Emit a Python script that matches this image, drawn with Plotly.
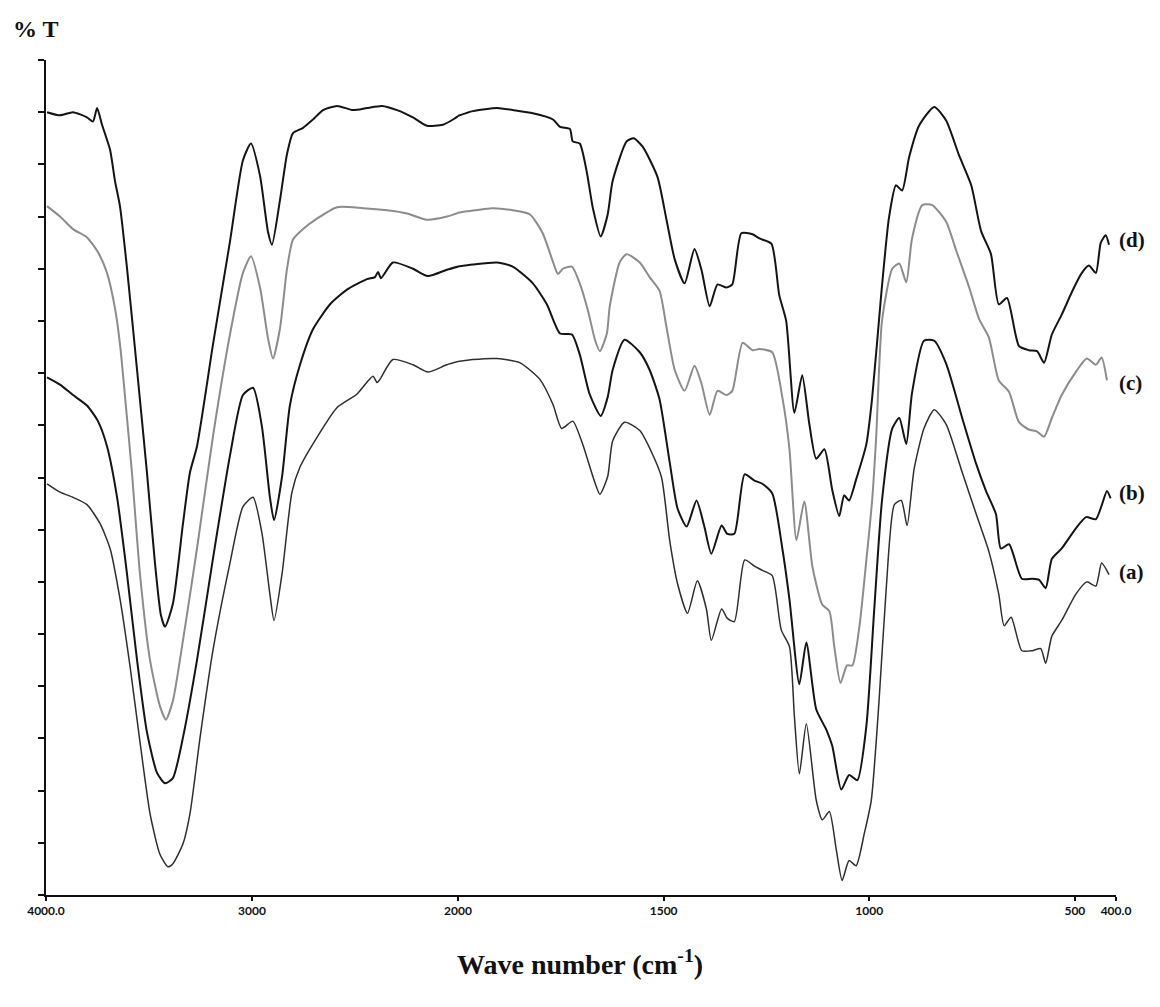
import plotly.graph_objects as go

# ---------------- data (wavenumber in cm-1, transmittance in arbitrary %T units) ----------------
wn_d = [3995, 3932, 3869, 3801, 3772, 3752, 3728, 3689, 3665, 3641, 3607, 3558, 3510, 3471, 3442, 3422,
        3384, 3335, 3301, 3267, 3189, 3107, 3044, 3005, 2961, 2922, 2903, 2864, 2830, 2801, 2752, 2704,
        2655, 2587, 2510, 2442, 2369, 2296, 2219, 2151, 2073, 2024, 1964, 1905, 1867, 1818, 1769, 1752,
        1728, 1721, 1704, 1687, 1672, 1653, 1636, 1624, 1590, 1573, 1551, 1515, 1493, 1473, 1449, 1425,
        1408, 1388, 1369, 1347, 1333, 1311, 1284, 1267, 1238, 1219, 1202, 1182, 1163, 1146, 1129, 1109,
        1090, 1073, 1061, 1049, 1032, 1007, 993, 971, 952, 935, 920, 903, 879, 842, 813, 782, 752, 728,
        704, 685, 665, 636, 612, 592, 575, 556, 532, 507, 483, 466, 449, 437, 425, 417]
t_d = [75.0, 74.7, 75.0, 74.5, 74.1, 75.4, 73.8, 71.4, 68.4, 66.0, 60.1, 50.3, 40.5, 31.8, 26.8, 25.7,
       27.9, 35.6, 40.5, 43.0, 52.8, 62.6, 70.4, 72.0, 68.9, 63.5, 62.3, 66.6, 71.0, 73.0, 73.5, 74.3,
       75.2, 75.6, 75.2, 75.4, 75.6, 75.2, 74.5, 73.7, 73.8, 74.3, 75.1, 75.4, 75.2, 74.9, 74.3, 73.6,
       73.4, 72.2, 72.0, 69.3, 65.8, 63.1, 65.2, 68.4, 72.2, 72.5, 71.7, 68.8, 64.7, 60.9, 58.6, 61.9,
       59.9, 56.4, 58.5, 58.2, 58.5, 63.4, 63.3, 62.9, 62.4, 57.5, 55.0, 46.2, 49.8, 45.2, 41.8, 42.7,
       38.8, 36.3, 38.3, 37.8, 39.8, 43.2, 47.6, 57.5, 64.9, 68.0, 67.5, 70.7, 73.7, 75.5, 74.2, 70.9,
       68.0, 63.6, 61.4, 56.6, 57.2, 52.6, 52.2, 52.1, 51.0, 53.7, 55.6, 57.8, 59.6, 60.3, 59.6, 62.5,
       63.2, 62.3]

wn_c = [3995, 3932, 3869, 3801, 3748, 3704, 3665, 3641, 3617, 3583, 3544, 3495, 3447, 3418, 3384, 3335,
        3267, 3189, 3107, 3044, 3005, 2961, 2922, 2898, 2864, 2830, 2801, 2752, 2685, 2587, 2461, 2345,
        2248, 2151, 2054, 1978, 1915, 1867, 1825, 1794, 1772, 1757, 1745, 1723, 1704, 1684, 1667, 1655,
        1638, 1631, 1607, 1590, 1558, 1534, 1510, 1493, 1473, 1449, 1425, 1408, 1388, 1369, 1347, 1333,
        1308, 1284, 1267, 1236, 1211, 1194, 1177, 1158, 1138, 1114, 1097, 1085, 1070, 1054, 1041, 1024,
        1007, 993, 983, 969, 944, 927, 910, 896, 871, 847, 813, 789, 757, 733, 709, 685, 660, 636, 612,
        592, 575, 556, 532, 498, 471, 449, 435, 422]
t_c = [66.0, 65.0, 63.8, 63.0, 61.6, 59.6, 56.2, 52.8, 47.9, 40.5, 30.8, 22.5, 18.1, 16.8, 18.6, 24.4,
       33.2, 44.0, 53.7, 59.6, 61.2, 58.2, 53.3, 51.4, 54.3, 60.0, 62.8, 63.8, 64.8, 65.9, 65.8, 65.6,
       65.3, 64.7, 65.0, 65.5, 65.8, 65.6, 65.2, 63.4, 61.0, 59.5, 60.0, 60.2, 58.6, 56.0, 53.2, 52.1,
       53.8, 56.4, 60.6, 61.4, 60.6, 59.2, 57.9, 54.4, 50.3, 48.3, 50.7, 49.0, 46.0, 48.3, 47.9, 48.3,
       52.9, 52.2, 52.3, 52.0, 47.6, 42.7, 34.0, 37.7, 31.4, 27.8, 27.2, 23.8, 20.3, 22.0, 22.0, 25.7,
       32.1, 37.8, 44.0, 55.0, 60.0, 60.5, 58.7, 62.9, 66.1, 66.1, 64.5, 61.8, 58.2, 55.2, 53.4, 49.3,
       48.2, 45.3, 44.6, 44.4, 43.9, 45.7, 47.9, 50.1, 51.4, 50.8, 51.5, 49.3]

wn_b = [3995, 3932, 3869, 3801, 3748, 3704, 3655, 3607, 3558, 3510, 3461, 3422, 3384, 3335, 3267, 3189,
        3107, 3044, 2995, 2952, 2913, 2893, 2854, 2816, 2767, 2704, 2621, 2539, 2442, 2403, 2388, 2374,
        2316, 2219, 2146, 2054, 1964, 1905, 1867, 1818, 1784, 1752, 1723, 1704, 1680, 1653, 1636, 1624,
        1595, 1558, 1534, 1510, 1485, 1466, 1444, 1420, 1401, 1384, 1359, 1345, 1328, 1303, 1279, 1260,
        1236, 1211, 1194, 1170, 1153, 1129, 1104, 1090, 1068, 1049, 1029, 1007, 988, 969, 944, 927, 910,
        896, 867, 842, 813, 774, 740, 716, 692, 680, 660, 629, 604, 587, 571, 556, 532, 498, 473, 449,
        435, 422, 413]
t_b = [49.6, 48.9, 47.9, 46.9, 45.4, 43.0, 38.1, 30.8, 22.5, 15.6, 11.7, 10.7, 11.2, 15.1, 22.5, 32.3,
       42.1, 47.9, 48.6, 44.9, 38.1, 35.9, 40.1, 46.9, 50.8, 54.2, 56.6, 58.0, 59.0, 59.2, 59.7, 59.1,
       60.6, 60.0, 59.3, 59.9, 60.4, 60.6, 60.2, 58.6, 56.6, 53.8, 53.7, 51.8, 48.0, 45.9, 47.7, 50.3,
       53.2, 52.0, 50.3, 47.5, 41.4, 37.0, 35.3, 37.8, 35.3, 32.7, 35.4, 34.6, 34.6, 40.3, 39.7, 39.4,
       38.5, 33.1, 28.3, 20.2, 24.2, 17.8, 15.8, 14.3, 10.1, 11.5, 11.0, 16.2, 27.3, 37.8, 44.7, 45.7,
       43.2, 48.1, 53.1, 53.1, 50.9, 45.7, 41.3, 38.7, 36.5, 33.2, 33.6, 30.3, 30.3, 30.2, 29.4, 32.2,
       33.2, 35.1, 36.2, 36.0, 37.3, 38.7, 38.0]

wn_a = [3995, 3932, 3869, 3801, 3738, 3689, 3641, 3592, 3544, 3495, 3447, 3408, 3384, 3335, 3301, 3252,
        3189, 3107, 3044, 2995, 2952, 2913, 2893, 2854, 2806, 2767, 2670, 2587, 2490, 2413, 2393, 2379,
        2316, 2219, 2146, 2054, 1964, 1905, 1850, 1801, 1769, 1748, 1721, 1697, 1672, 1655, 1636, 1624,
        1595, 1558, 1529, 1505, 1485, 1466, 1442, 1418, 1396, 1384, 1359, 1345, 1328, 1303, 1279, 1260,
        1236, 1214, 1194, 1182, 1170, 1153, 1129, 1114, 1097, 1080, 1066, 1049, 1032, 1012, 995, 976, 959,
        939, 922, 908, 891, 867, 842, 813, 774, 740, 709, 685, 672, 655, 629, 604, 583, 571, 556, 532, 498,
        471, 449, 435, 417]
t_a = [39.4, 38.6, 38.1, 37.4, 35.6, 33.2, 28.4, 21.9, 14.7, 7.8, 3.9, 2.7, 3.0, 4.9, 7.8, 15.1,
       23.5, 31.8, 37.2, 38.1, 34.7, 28.8, 26.3, 30.8, 38.6, 41.0, 44.3, 46.7, 48.0, 49.7, 49.1, 49.4,
       51.3, 50.8, 50.1, 50.8, 51.3, 51.4, 51.0, 49.4, 47.0, 44.7, 45.4, 43.2, 40.1, 38.4, 40.1, 43.5,
       45.3, 44.5, 42.4, 40.0, 33.9, 29.8, 27.0, 30.1, 27.4, 24.4, 27.4, 26.5, 26.2, 32.1, 31.5, 31.1,
       30.6, 25.4, 23.8, 17.1, 11.6, 16.4, 9.1, 7.2, 8.0, 4.3, 1.4, 3.3, 2.8, 5.9, 9.1, 18.7, 29.2,
       37.4, 37.8, 35.4, 40.8, 44.7, 46.5, 45.1, 40.5, 36.5, 32.9, 28.8, 25.8, 26.6, 23.4, 23.4, 23.6,
       22.2, 24.8, 26.3, 28.8, 30.0, 29.6, 31.8, 30.7]

series_labels = ["(a)", "(b)", "(c)", "(d)"]
label_levels = [30.9, 38.5, 49.1, 62.8]

tick_hi_vals = [4000, 3000, 2000]
tick_hi_text = ["4000.0", "3000", "2000"]
tick_lo_vals = [1500, 1000, 500, 400]
tick_lo_text = ["1500", "1000", "500", "400.0"]

# ---------------- figure ----------------
SPLIT = 2000  # scale changes at 2000 cm-1 (x2 expansion below)
fig = go.Figure()


def add_spectrum(wn, t, color, width):
    hi_idx = [i for i, w in enumerate(wn) if w >= SPLIT]
    lo_idx = [i for i, w in enumerate(wn) if w <= SPLIT]
    hi_idx = hi_idx + [hi_idx[-1] + 1]          # carry one point over the split for continuity
    lo_idx = [lo_idx[0] - 1] + lo_idx
    line = dict(color=color, width=width, shape="spline", smoothing=0.6)
    fig.add_trace(go.Scatter(x=[wn[i] for i in hi_idx], y=[t[i] for i in hi_idx],
                             mode="lines", line=line, xaxis="x", yaxis="y",
                             showlegend=False, hoverinfo="skip"))
    fig.add_trace(go.Scatter(x=[wn[i] for i in lo_idx], y=[t[i] for i in lo_idx],
                             mode="lines", line=line, xaxis="x2", yaxis="y",
                             showlegend=False, hoverinfo="skip"))


add_spectrum(wn_a, t_a, "#2e2e2e", 1.5)
add_spectrum(wn_b, t_b, "#141414", 2.0)
add_spectrum(wn_c, t_c, "#8c8c8c", 2.0)
add_spectrum(wn_d, t_d, "#141414", 2.0)

# page body has an 8 px default margin, so the figure is 8 px smaller and offset
W, H = 1152, 999
L, R, T, B = 38, 44, 52, 112
split_frac = 412 / 1070

axis_common = dict(showline=True, linecolor="#111111", linewidth=2, showgrid=False, zeroline=False,
                   ticks="outside", ticklen=4, tickwidth=1.5, tickcolor="#111111", automargin=False,
                   tickfont=dict(family="Lato, 'Open Sans', sans-serif", size=12, color="#111111"))

fig.update_layout(
    width=W, height=H,
    margin=dict(l=L, r=R, t=T, b=B),
    paper_bgcolor="white", plot_bgcolor="white",
    showlegend=False,
    xaxis=dict(domain=[0, split_frac], range=[4000, SPLIT], anchor="y",
               tickmode="array", tickvals=tick_hi_vals,
               ticktext=["<b>%s</b>" % s for s in tick_hi_text], **axis_common),
    xaxis2=dict(domain=[split_frac, 1], range=[SPLIT, 400], anchor="y",
                tickmode="array", tickvals=tick_lo_vals,
                ticktext=["<b>%s</b>" % s for s in tick_lo_text], **axis_common),
    yaxis=dict(range=[0, 80], dtick=5, tick0=0, anchor="x", showline=True, linecolor="#111111",
               linewidth=2, showgrid=False, zeroline=False, ticks="outside", ticklen=6,
               tickwidth=1.5, tickcolor="#111111", showticklabels=False, automargin=False),
)

serif = "'Liberation Serif', 'DejaVu Serif', serif"
for lab, lev in zip(series_labels, label_levels):
    fig.add_annotation(x=1.0, xref="paper", y=lev, yref="y", text="<b>%s</b>" % lab,
                       showarrow=False, xanchor="left", xshift=1,
                       font=dict(family=serif, size=21, color="#111111"))

fig.add_annotation(x=-0.033, xref="paper", y=1.037, yref="paper", text="<b>% T</b>",
                   showarrow=False, xanchor="left", yanchor="middle",
                   font=dict(family=serif, size=24, color="#111111"))

fig.add_annotation(x=0.499, xref="paper", y=-0.081, yref="paper",
                   text="<b>Wave number (cm<sup>-1</sup>)</b>",
                   showarrow=False, xanchor="center", yanchor="middle",
                   font=dict(family=serif, size=28, color="#111111"))

fig.write_html("out.html")
